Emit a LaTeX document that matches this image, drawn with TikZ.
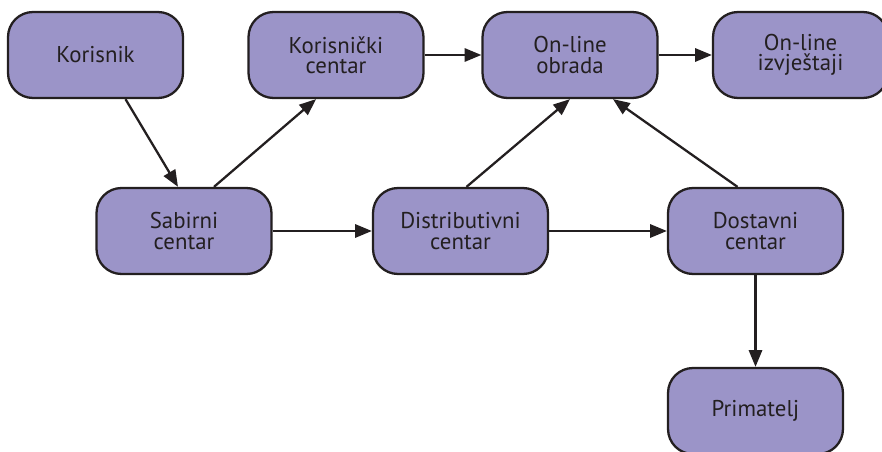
\documentclass[tikz,border=0pt]{standalone}
\usepackage{fontspec}
\setmainfont{PT Sans}
\usetikzlibrary{arrows.meta}
\definecolor{boxfill}{RGB}{155,148,200}
\definecolor{ink}{RGB}{35,31,32}
\begin{document}
\begin{tikzpicture}[x=0.02cm,y=-0.02cm,
  box/.style={draw=ink,fill=boxfill,line width=1.3pt,rounded corners=0.5cm,
    minimum width=3.5cm,minimum height=1.72cm,align=center,text=ink,
    font=\fontsize{13}{11.5}\selectfont},
  arr/.style={draw=ink,line width=1.3pt,-{Triangle[length=9.5pt,width=7.5pt]}}]
\useasboundingbox (0,0) rectangle (882,452);
\node[box] (korisnik) at (95.5,55) {Korisnik};
\node[box] (kcentar) at (336,55) {Korisnički\\centar};
\node[box] (obrada) at (570,55) {On-line\\obrada};
\node[box] (izvjestaji) at (800.5,55) {On-line\\izvještaji};
\node[box] (sabirni) at (184,231) {Sabirni\\centar};
\node[box] (distrib) at (460.5,231) {Distributivni\\centar};
\node[box] (dostavni) at (755.5,231) {Dostavni\\centar};
\node[box] (primatelj) at (755.5,411) {Primatelj};
\draw[arr] ([xshift=0.6cm]korisnik.south) -- ([xshift=-0.12cm]sabirni.north);
\draw[arr] ([xshift=0.6cm]sabirni.north) -- ([xshift=-0.4cm]kcentar.south);
\draw[arr] (kcentar) -- (obrada);
\draw[arr] (obrada) -- (izvjestaji);
\draw[arr] (sabirni) -- (distrib);
\draw[arr] (distrib) -- (dostavni);
\draw[arr] ([xshift=0.12cm]distrib.north) -- (obrada.south);
\draw[arr] ([xshift=-0.36cm]dostavni.north) -- ([xshift=0.86cm]obrada.south);
\draw[arr] (dostavni) -- (primatelj);
\end{tikzpicture}
\end{document}
